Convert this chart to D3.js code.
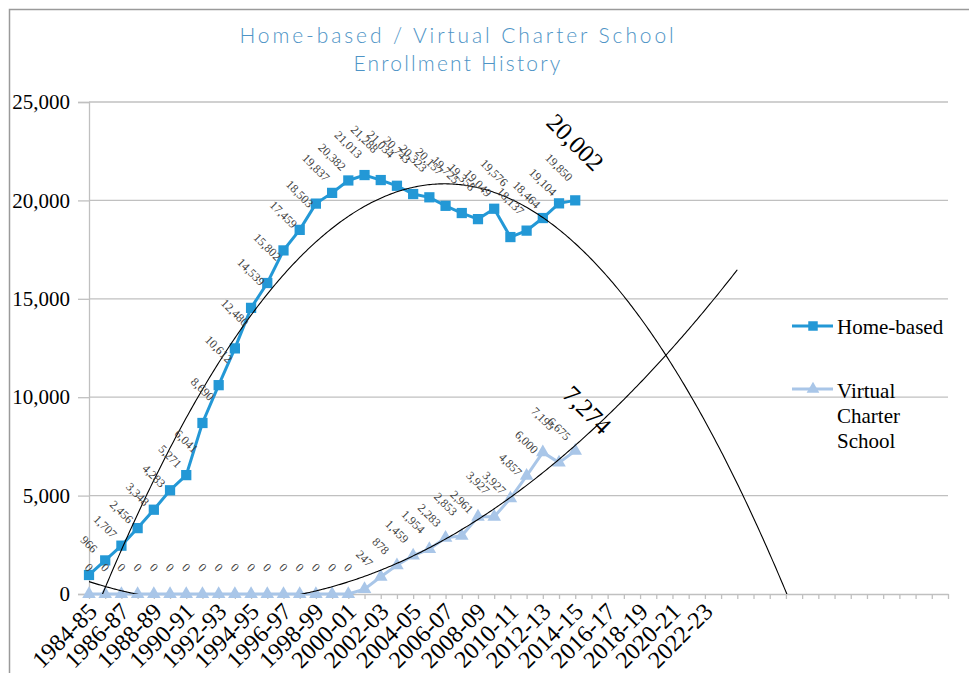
<!DOCTYPE html>
<html>
<head>
<meta charset="utf-8">
<script src="https://cdn.jsdelivr.net/npm/d3@7"></script>
<style>
  body { margin: 0; background: #fff; }
  svg { display: block; }
</style>
</head>
<body>
<div id="chart"></div>
<script>
// data
const seasons = ["1984-85","1985-86","1986-87","1987-88","1988-89","1989-90","1990-91","1991-92",
    "1992-93","1993-94","1994-95","1995-96","1996-97","1997-98","1998-99","1999-00","2000-01",
    "2001-02","2002-03","2003-04","2004-05","2005-06","2006-07","2007-08","2008-09","2009-10",
    "2010-11","2011-12","2012-13","2013-14","2014-15"];
const homeBased = [966, 1707, 2456, 3348, 4283, 5271, 6041, 8690, 10612, 12480, 14539, 15802,
    17459, 18503, 19837, 20382, 21013, 21288, 21034, 20743, 20323, 20157, 19725, 19358, 19049,
    19576, 18137, 18464, 19104, 19850, 20002];
const virtualCharter = [0, 0, 0, 0, 0, 0, 0, 0, 0, 0, 0, 0, 0, 0, 0, 0, 0, 247, 878, 1459, 1954,
    2283, 2853, 2961, 3927, 3927, 4857, 6000, 7195, 6675, 7274];
const tickLabels = ["1984-85","1986-87","1988-89","1990-91","1992-93","1994-95","1996-97",
    "1998-99","2000-01","2002-03","2004-05","2006-07","2008-09","2010-11","2012-13","2014-15",
    "2016-17","2018-19","2020-21","2022-23"];
const yTicks = [0, 5000, 10000, 15000, 20000, 25000];
const axisSlots = 54;          // categories on the axis (incl. empty forecast slots)
const homeForecast = 15;       // trendline forward periods
const virtualForecast = 10;

const homeColor = "#2398d6";
const virtualColor = "#a9c6e8";
const serif = "\"Liberation Serif\"";

const width = 969, height = 673;
const svg = d3.select("#chart").append("svg")
    .attr("width", width)
    .attr("height", height);

// frame
svg.append("path")
    .attr("d", "M9.5,673 V9.5 H969")
    .attr("fill", "none")
    .attr("stroke", "#9a9a9a")
    .attr("stroke-width", 1.5);

const x = d3.scaleLinear().domain([0, axisSlots - 1]).range([89, 948]);
const y = d3.scaleLinear().domain([0, 25000]).range([594, 102]);

// title
[["Home-based / Virtual Charter School", 2.9], ["Enrollment History", 2.2]].forEach((t, i) => {
    svg.append("text")
        .attr("x", 458).attr("y", 43 + i * 28)
        .attr("text-anchor", "middle")
        .style("font-family", "\"Lato\"")
        .style("font-weight", 300)
        .style("font-size", "21px")
        .style("letter-spacing", t[1] + "px")
        .style("fill", "#4e94c6")
        .text(t[0]);
});

// gridlines
svg.append("g")
    .selectAll("line")
    .data(yTicks.filter(d => d > 0))
    .enter()
    .append("line")
    .attr("x1", x(0)).attr("x2", x(axisSlots - 1))
    .attr("y1", d => y(d)).attr("y2", d => y(d))
    .attr("stroke", "#c0c0c0")
    .attr("stroke-width", 1.3);

// y axis
const yAxis = svg.append("g")
    .attr("transform", `translate(${x(0)},0)`)
    .call(d3.axisLeft(y).tickValues(yTicks).tickFormat(d3.format(",")).tickSize(11).tickPadding(8));
yAxis.attr("font-family", serif).attr("font-size", 21);
yAxis.select(".domain").attr("stroke", "#c0c0c0").attr("stroke-width", 1.3);
yAxis.selectAll(".tick line").attr("stroke", "#c0c0c0").attr("stroke-width", 1.3);
yAxis.selectAll("text")
    .style("font-family", serif)
    .style("font-size", "21px")
    .style("fill", "#000");

// x axis
const xAxis = svg.append("g")
    .attr("transform", `translate(0,${y(0)})`)
    .call(d3.axisBottom(x)
        .tickValues(d3.range(axisSlots))
        .tickSize(5)
        .tickSizeOuter(0)
        .tickFormat(i => (i % 2 == 0 && i / 2 < tickLabels.length) ? tickLabels[i / 2] : ""));
xAxis.attr("font-family", serif).attr("font-size", 24);
xAxis.select(".domain").attr("stroke", "#c0c0c0").attr("stroke-width", 1.3);
xAxis.selectAll(".tick line").attr("stroke", "#c0c0c0").attr("stroke-width", 1.3);
xAxis.selectAll("text")
    .attr("x", 0).attr("y", 0).attr("dy", "0.35em")
    .attr("transform", "translate(3,13) rotate(-45)")
    .style("text-anchor", "end")
    .style("font-family", serif)
    .style("font-size", "24px")
    .style("fill", "#000");

// quadratic least squares trendline (same as the spreadsheet's polynomial trendline)
function polyfit2(vals) {
    let S = [0, 0, 0, 0, 0], T = [0, 0, 0];
    vals.forEach((v, i) => {
        for (let k = 0; k < 5; k++) S[k] += Math.pow(i, k);
        for (let k = 0; k < 3; k++) T[k] += v * Math.pow(i, k);
    });
    let A = [[S[0], S[1], S[2], T[0]], [S[1], S[2], S[3], T[1]], [S[2], S[3], S[4], T[2]]];
    for (let c = 0; c < 3; c++) {
        for (let r = c + 1; r < 3; r++) {
            let f = A[r][c] / A[c][c];
            for (let k = c; k < 4; k++) A[r][k] -= f * A[c][k];
        }
    }
    let coef = [0, 0, 0];
    for (let r = 2; r >= 0; r--) {
        let s = A[r][3];
        for (let k = r + 1; k < 3; k++) s -= A[r][k] * coef[k];
        coef[r] = s / A[r][r];
    }
    return t => coef[0] + coef[1] * t + coef[2] * t * t;
}

svg.append("clipPath").attr("id", "plotClip")
    .append("rect")
    .attr("x", x(0)).attr("y", y(25000))
    .attr("width", x(axisSlots - 1) - x(0))
    .attr("height", y(0) - y(25000));

const trendLine = d3.line().x(d => x(d[0])).y(d => y(d[1]));

function drawTrend(vals, forward) {
    const f = polyfit2(vals);
    const last = vals.length - 1 + forward;
    const pts = d3.range(0, last + 0.001, 0.1).map(t => [t, f(t)]);
    svg.append("path")
        .datum(pts)
        .attr("clip-path", "url(#plotClip)")
        .attr("d", trendLine)
        .attr("fill", "none")
        .attr("stroke", "#000")
        .attr("stroke-width", 1.1);
}

// series
const serLine = d3.line().x((d, i) => x(i)).y(d => y(d));

svg.append("path")
    .datum(virtualCharter)
    .attr("d", serLine)
    .attr("fill", "none")
    .attr("stroke", virtualColor)
    .attr("stroke-width", 3);
svg.append("g").selectAll("path")
    .data(virtualCharter)
    .enter()
    .append("path")
    .attr("transform", (d, i) => `translate(${x(i)},${y(d)})`)
    .attr("d", d3.symbol(d3.symbolTriangle, 80))
    .attr("fill", virtualColor);

svg.append("path")
    .datum(homeBased)
    .attr("d", serLine)
    .attr("fill", "none")
    .attr("stroke", homeColor)
    .attr("stroke-width", 3);
svg.append("g").selectAll("path")
    .data(homeBased)
    .enter()
    .append("path")
    .attr("transform", (d, i) => `translate(${x(i)},${y(d)})`)
    .attr("d", d3.symbol(d3.symbolSquare, 105))
    .attr("fill", homeColor);

drawTrend(homeBased, homeForecast);
drawTrend(virtualCharter, virtualForecast);

// data labels, rotated and sitting above each point
function drawLabels(vals, bigOffset) {
    const n = vals.length;
    const g = svg.append("g");
    vals.forEach((v, i) => {
        const big = i == n - 1;
        const t = g.append("text")
            .attr("text-anchor", "middle")
            .attr("dominant-baseline", "central")
            .style("font-family", serif)
            .style("font-size", big ? "25px" : "12px")
            .style("fill", big ? "#000" : "#404040")
            .text(d3.format(",")(v));
        let cx = x(i), cy;
        if (big) {
            cx += bigOffset[0];
            cy = y(v) + bigOffset[1];
        } else {
            const L = t.node().getComputedTextLength();
            cy = y(v) - 20 - (L + 12) / (2 * Math.SQRT2);
        }
        t.attr("transform", `translate(${cx},${cy}) rotate(45)`);
    });
}
drawLabels(homeBased, [0, -58]);
drawLabels(virtualCharter, [12, -41]);

// legend
const legend = svg.append("g");
legend.append("line")
    .attr("x1", 792).attr("x2", 833).attr("y1", 326).attr("y2", 326)
    .attr("stroke", homeColor).attr("stroke-width", 3);
legend.append("path")
    .attr("transform", "translate(813,326)")
    .attr("d", d3.symbol(d3.symbolSquare, 90))
    .attr("fill", homeColor);
legend.append("text")
    .attr("x", 837).attr("y", 334)
    .style("font-family", serif)
    .style("font-size", "21px")
    .text("Home-based");
legend.append("line")
    .attr("x1", 792).attr("x2", 833).attr("y1", 389).attr("y2", 389)
    .attr("stroke", virtualColor).attr("stroke-width", 3);
legend.append("path")
    .attr("transform", "translate(813,389)")
    .attr("d", d3.symbol(d3.symbolTriangle, 70))
    .attr("fill", virtualColor);
["Virtual", "Charter", "School"].forEach((w, i) => {
    legend.append("text")
        .attr("x", 837)
        .attr("y", 398 + i * 25)
        .style("font-family", serif)
        .style("font-size", "21px")
        .text(w);
});
</script>
</body>
</html>
